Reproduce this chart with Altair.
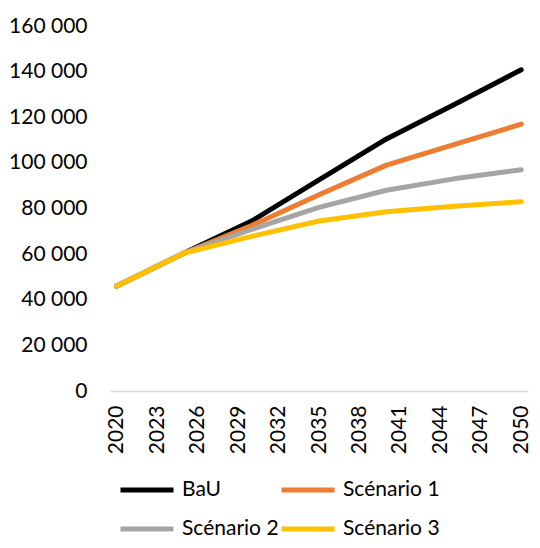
import altair as alt
import pandas as pd

years = [2020, 2025, 2030, 2035, 2040, 2045, 2050]
series_names = ["BaU", "Scénario 1", "Scénario 2", "Scénario 3"]
bau = [46000, 60500, 74500, 92500, 110500, 125500, 140800]
scen1 = [46000, 60500, 72500, 86000, 99000, 108000, 117000]
scen2 = [46000, 60500, 70800, 80500, 88000, 93000, 97000]
scen3 = [46000, 60500, 67800, 74500, 78600, 81000, 83000]
colors = ["#000000", "#ED7D31", "#A5A5A5", "#FFC000"]
x_ticks = list(range(2020, 2051, 3))
y_ticks = list(range(0, 160001, 20000))

rows = []
for name, vals in zip(series_names, [bau, scen1, scen2, scen3]):
    for y, v in zip(years, vals):
        rows.append({"year": y, "value": v, "series": name})
df = pd.DataFrame(rows)

FONT = "Lato"

chart = alt.Chart(df).mark_line(
    strokeWidth=5, strokeCap="round", strokeJoin="round"
).encode(
    x=alt.X("year:Q",
            scale=alt.Scale(domain=[2019.5, 2050.5], nice=False, zero=False),
            axis=alt.Axis(values=x_ticks, format="d", labelAngle=-90, ticks=False,
                          grid=False, domain=True, domainColor="#D9D9D9", domainWidth=1.5,
                          labelPadding=14, labelFontSize=21, labelFont=FONT,
                          labelColor="#000000", title=None, labelOverlap=False)),
    y=alt.Y("value:Q",
            scale=alt.Scale(domain=[0, 160000], nice=False),
            axis=alt.Axis(values=y_ticks, ticks=False, grid=False, domain=False,
                          labelPadding=23, labelFontSize=21, labelFont=FONT,
                          labelColor="#000000", title=None,
                          labelExpr="replace(format(datum.value, ','), ',', ' ')")),
    color=alt.Color("series:N",
                    scale=alt.Scale(domain=series_names, range=colors),
                    legend=alt.Legend(orient="none", legendX=8, legendY=435, columns=2,
                                      direction="horizontal",
                                      title=None, symbolType="stroke", symbolSize=2809,
                                      symbolStrokeWidth=5, labelFontSize=21,
                                      labelFont=FONT, labelColor="#000000",
                                      labelOffset=6, columnPadding=-8, rowPadding=-2)),
).properties(
    width=418, height=365,
    autosize=alt.AutoSizeParams(type="none"),
    padding={"left": 102, "top": 18, "right": 4, "bottom": 149},
).configure_view(stroke=None)

chart.save("out.html", embed_options={"renderer": "svg", "actions": False})
